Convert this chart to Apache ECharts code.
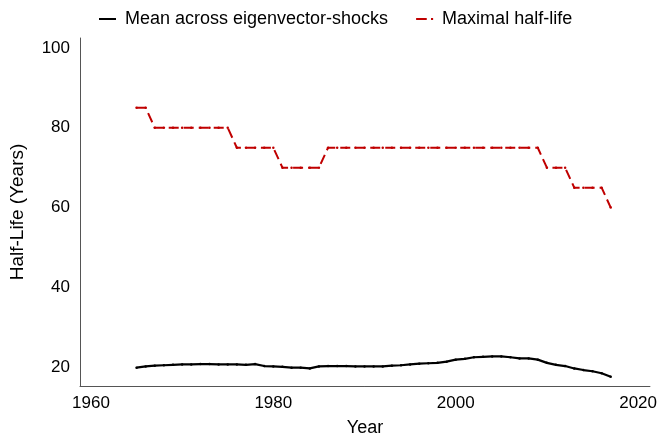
<!DOCTYPE html>
<html>
<head>
<meta charset="utf-8">
<script src="https://cdn.jsdelivr.net/npm/echarts@6/dist/echarts.min.js"></script>
<style>
html,body{margin:0;padding:0;background:#fff;}
#chart{width:660px;height:442px;}
</style>
</head>
<body>
<div id="chart"></div>
<script>
const years = [];
for (let y = 1965; y <= 2017; y++) years.push(y);

const meanHalfLife = [
  19.9, 20.2, 20.4, 20.5, 20.6, 20.7, 20.7, 20.8, 20.8, 20.7,
  20.7, 20.7, 20.6, 20.8, 20.3, 20.2, 20.1, 19.9, 19.9, 19.7,
  20.2, 20.3, 20.3, 20.3, 20.2, 20.2, 20.2, 20.2, 20.4, 20.5,
  20.7, 20.9, 21.0, 21.1, 21.4, 21.9, 22.1, 22.5, 22.6, 22.7,
  22.7, 22.5, 22.2, 22.2, 21.9, 21.1, 20.6, 20.3, 19.7, 19.3,
  19.0, 18.5, 17.6
];

const maxHalfLife = [
  85, 85, 80, 80, 80, 80, 80, 80, 80, 80,
  80, 75, 75, 75, 75, 75, 70, 70, 70, 70,
  70, 75, 75, 75, 75, 75, 75, 75, 75, 75,
  75, 75, 75, 75, 75, 75, 75, 75, 75, 75,
  75, 75, 75, 75, 75, 70, 70, 70, 65, 65,
  65, 65, 60
];

const xTicks = [1960, 1980, 2000, 2020];
const yTicks = [20, 40, 60, 80, 100];
const seriesNames = ['Mean across eigenvector-shocks', 'Maximal half-life'];

const chart = echarts.init(document.getElementById('chart'), null, {renderer: 'canvas'});
const font = 'Liberation Sans, Arial, sans-serif';
const red = '#c00000';

chart.setOption({
  animation: false,
  backgroundColor: '#fff',
  textStyle: {fontFamily: font},
  legend: {
    left: 94,
    top: 5,
    itemGap: 28,
    itemWidth: 17,
    itemHeight: 14,
    textStyle: {fontFamily: font, fontSize: 18, color: '#000', padding: [0, 0, 0, 4]},
    data: [
      {name: seriesNames[0], icon: 'path://M0,6 L17,6 L17,8 L0,8 Z', itemStyle: {color: '#000'}},
      {name: seriesNames[1], icon: 'path://M0,6 L10,6 L10,8 L0,8 Z M14,6 L16,6 L16,8 L14,8 Z', itemStyle: {color: red}}
    ]
  },
  grid: {left: 80, right: 10, top: 38, bottom: 50, containLabel: false},
  xAxis: {
    type: 'value',
    min: 1958.8,
    max: 2021.3,
    name: 'Year',
    nameLocation: 'middle',
    nameGap: 33,
    nameTextStyle: {fontFamily: font, fontSize: 18, color: '#000'},
    axisLine: {show: true, lineStyle: {color: '#555', width: 1}},
    axisTick: {show: false},
    splitLine: {show: false},
    axisLabel: {customValues: xTicks, fontFamily: font, fontSize: 17, color: '#000', margin: 9,
      formatter: v => String(v)}
  },
  yAxis: {
    type: 'value',
    min: 15.3,
    max: 102.5,
    name: 'Half-Life (Years)',
    nameLocation: 'middle',
    nameGap: 53,
    nameTextStyle: {fontFamily: font, fontSize: 19, color: '#000'},
    axisLine: {show: true, lineStyle: {color: '#555', width: 1}},
    axisTick: {show: false},
    splitLine: {show: false},
    axisLabel: {customValues: yTicks, fontFamily: font, fontSize: 17, color: '#000', margin: 10,
      formatter: v => String(v)}
  },
  series: [
    {
      name: seriesNames[0],
      type: 'line',
      data: years.map((y, i) => [y, meanHalfLife[i]]),
      symbol: 'circle',
      symbolSize: 2.5,
      itemStyle: {color: '#000'},
      lineStyle: {color: '#000', width: 2.2}
    },
    {
      name: seriesNames[1],
      type: 'line',
      data: years.map((y, i) => [y, maxHalfLife[i]]),
      symbol: 'circle',
      symbolSize: 2.5,
      itemStyle: {color: red},
      lineStyle: {color: red, width: 2, type: [10, 5]}
    }
  ]
});
</script>
</body>
</html>
